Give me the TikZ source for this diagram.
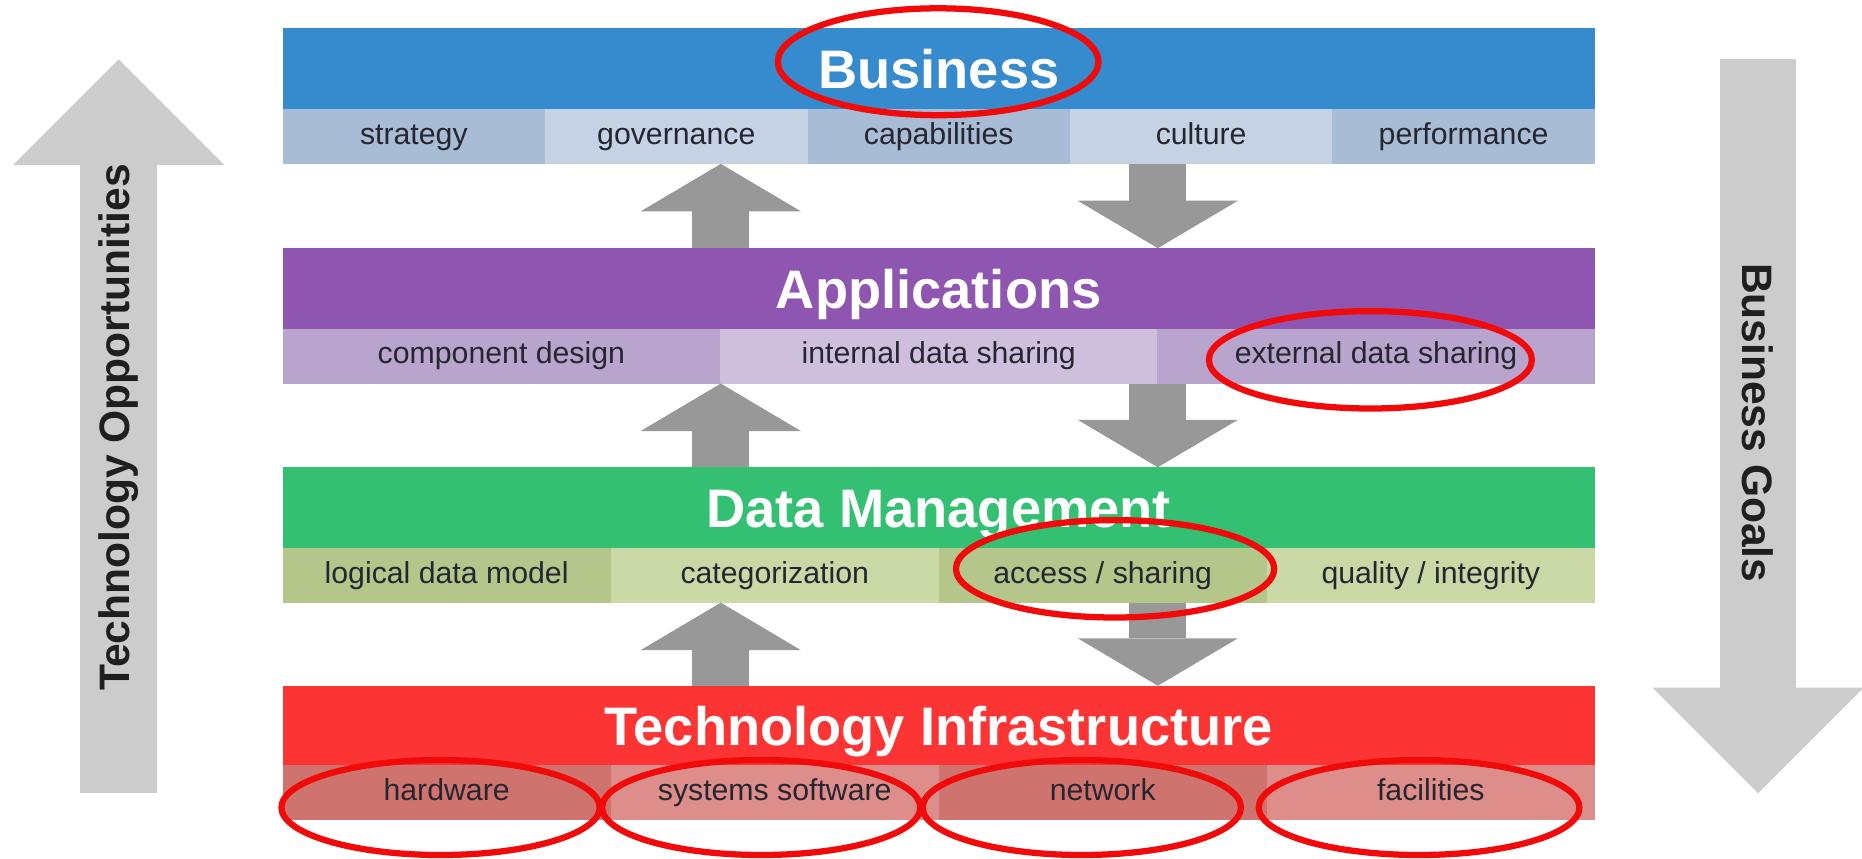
\documentclass[tikz,border=0pt]{standalone}
\usepackage{fontspec}
\setmainfont{Liberation Sans}
\usepackage{tikz}
\usetikzlibrary{arrows.meta}
\definecolor{bizblue}{RGB}{54,139,206}
\definecolor{bizcellA}{RGB}{168,188,214}
\definecolor{bizcellB}{RGB}{196,210,228}
\definecolor{appviolet}{RGB}{142,86,176}
\definecolor{appcellA}{RGB}{184,164,204}
\definecolor{appcellB}{RGB}{206,192,221}
\definecolor{datagreen}{RGB}{52,192,114}
\definecolor{datacellA}{RGB}{180,198,138}
\definecolor{datacellB}{RGB}{201,216,164}
\definecolor{infrared}{RGB}{252,52,52}
\definecolor{infracellA}{RGB}{207,115,110}
\definecolor{infracellB}{RGB}{222,142,138}
\definecolor{flowgray}{RGB}{152,152,152}
\definecolor{sidegray}{RGB}{204,204,204}
\definecolor{celltext}{RGB}{38,38,48}
\definecolor{ringred}{RGB}{240,10,10}

\begin{document}
\begin{tikzpicture}[scale=0.2]
              \tikzstyle{every node}+=[inner sep=0pt, outer sep=0pt]
              \tikzstyle{layer}=[rectangle, minimum width=22.1cm, minimum height=1.36cm, text=white, font=\fontsize{26}{30}\selectfont\bfseries, text height=18.7pt, text depth=0pt]
              \tikzstyle{cell}=[rectangle, minimum height=0.92cm, text=celltext, font=\fontsize{14.5}{17}\selectfont, text height=10.4pt, text depth=3pt]
              \tikzstyle{flow}=[draw=flowgray, line width=0.96cm, -{Triangle[width=2.7cm, length=0.8cm, line width=0pt]}]
              \tikzstyle{side}=[draw=sidegray, line width=1.29cm, -{Triangle[width=3.56cm, length=1.78cm, line width=0pt]}]
              \tikzstyle{sidetext}=[text=black!88, font=\fontsize{20.4}{24}\selectfont\bfseries]
              \tikzstyle{ring}=[draw=ringred, line width=3pt]
              \useasboundingbox (0,0) rectangle (156.8,-72.3);
              \fill [white] (0,0) rectangle (156.8,-72.3);
              \coordinate (oppfoot) at (10,-66.8);
              \coordinate (opphead) at (10,-5);
              \coordinate (goalfoot) at (148.05,-5);
              \coordinate (goalhead) at (148.05,-66.8);
              \draw [side] (oppfoot) -- (opphead);
              \draw [side] (goalfoot) -- (goalhead);
              \node [sidetext, rotate=90] (opplabel) at (10,-36) {Technology Opportunities};
              \node [sidetext, rotate=-90] (goallabel) at (148.05,-35.6) {Business Goals};
              \node [layer, fill=bizblue] (business) at (79.05,-5.8) {Business};
              \node [cell, fill=bizcellA, minimum width=4.42cm] (strategy) at (34.85,-11.5) {strategy};
              \node [cell, fill=bizcellB, minimum width=4.42cm] (governance) at (56.95,-11.5) {governance};
              \node [cell, fill=bizcellA, minimum width=4.42cm] (capabilities) at (79.05,-11.5) {capabilities};
              \node [cell, fill=bizcellB, minimum width=4.42cm] (culture) at (101.15,-11.5) {culture};
              \node [cell, fill=bizcellA, minimum width=4.42cm] (performance) at (123.25,-11.5) {performance};
              \node [layer, fill=appviolet] (applications) at (79.05,-24.3) {Applications};
              \node [cell, fill=appcellA, minimum width=7.367cm] (compdesign) at (42.22,-30) {component design};
              \node [cell, fill=appcellB, minimum width=7.367cm] (intsharing) at (79.05,-30) {internal data sharing};
              \node [cell, fill=appcellA, minimum width=7.367cm] (extsharing) at (115.88,-30) {external data sharing};
              \node [layer, fill=datagreen] (datamgmt) at (79.05,-42.75) {Data Management};
              \node [cell, fill=datacellA, minimum width=5.525cm] (datamodel) at (37.61,-48.45) {logical data model};
              \node [cell, fill=datacellB, minimum width=5.525cm] (categorization) at (65.24,-48.45) {categorization};
              \node [cell, fill=datacellA, minimum width=5.525cm] (accesssharing) at (92.86,-48.45) {access / sharing};
              \node [cell, fill=datacellB, minimum width=5.525cm] (quality) at (120.49,-48.45) {quality / integrity};
              \node [layer, fill=infrared] (infra) at (79.05,-61.15) {Technology Infrastructure};
              \node [cell, fill=infracellA, minimum width=5.525cm] (hardware) at (37.61,-66.75) {hardware};
              \node [cell, fill=infracellB, minimum width=5.525cm] (syssoftware) at (65.24,-66.75) {systems software};
              \node [cell, fill=infracellA, minimum width=5.525cm] (network) at (92.86,-66.75) {network};
              \node [cell, fill=infracellB, minimum width=5.525cm] (facilities) at (120.49,-66.75) {facilities};
              \coordinate (upcol) at (60.7,0);
              \coordinate (downcol) at (97.5,0);
              \draw [flow] (applications.north -| upcol) -- (governance.south -| upcol);
              \draw [flow] (culture.south -| downcol) -- (applications.north -| downcol);
              \draw [flow] (datamgmt.north -| upcol) -- (intsharing.south -| upcol);
              \draw [flow] (extsharing.south -| downcol) -- (datamgmt.north -| downcol);
              \draw [flow] (infra.north -| upcol) -- (categorization.south -| upcol);
              \draw [flow] (accesssharing.south -| downcol) -- (infra.north -| downcol);
              \draw [ring] (79,-5.2) ellipse (13.5 and 4.5);
              \draw [ring] (115.4,-30.3) ellipse (13.6 and 4.1);
              \draw [ring] (93.9,-47.9) ellipse (13.4 and 4.1);
              \draw [ring] (37.1,-68) ellipse (13.4 and 4);
              \draw [ring] (64.1,-68) ellipse (13.4 and 4);
              \draw [ring] (91.1,-68) ellipse (13.4 and 4);
              \draw [ring] (119.5,-68) ellipse (13.5 and 4);
\end{tikzpicture}
\end{document}
